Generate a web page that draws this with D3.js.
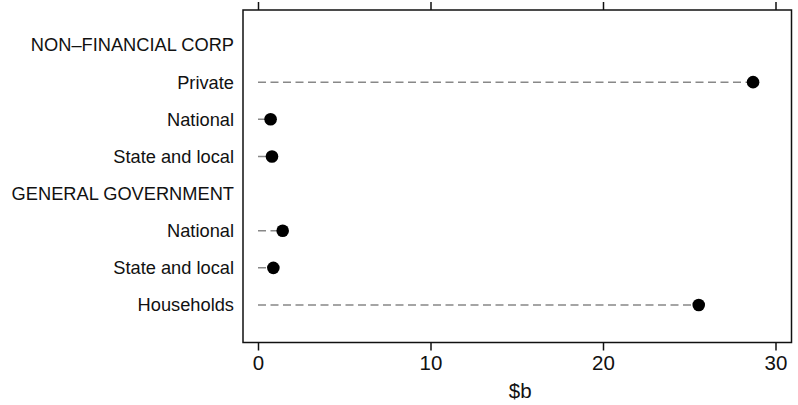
<!DOCTYPE html>
<html>
<head>
<meta charset="utf-8">
<script src="https://cdn.jsdelivr.net/npm/d3@7/dist/d3.min.js"></script>
<style>
  html, body { margin: 0; padding: 0; background: #fff; }
  svg text { font-family: "Liberation Sans", Arial, sans-serif; fill: #111; }
</style>
</head>
<body>
<svg id="chart" width="798" height="405"></svg>
<script>
// Data
const categories = [
  "NON–FINANCIAL CORP",
  "Private",
  "National",
  "State and local",
  "GENERAL GOVERNMENT",
  "National",
  "State and local",
  "Households"
];
// null for header rows (no value)
const values = [null, 28.7, 0.73, 0.81, null, 1.43, 0.89, 25.55];
const xTicks = [0, 10, 20, 30];
const xTitle = "$b";

(function () {
const svg = d3.select("#chart");
const mL = 243, mR = 791.5, mT = 10, mB = 342.5;

const x = d3.scaleLinear().domain([0, 30]).range([258, 775.5]);
const y = d3.scalePoint().domain(d3.range(categories.length)).range([45, 305]);

// frame
svg.append("rect")
  .attr("x", mL).attr("y", mT)
  .attr("width", mR - mL).attr("height", mB - mT)
  .attr("fill", "none").attr("stroke", "#111").attr("stroke-width", 1.5);

// bottom axis
const gb = svg.append("g").attr("transform", `translate(0,${mB})`)
  .call(d3.axisBottom(x).tickValues(xTicks).tickSize(8).tickPadding(4.5).tickFormat(d3.format("d")));
gb.select(".domain").remove();
gb.selectAll(".tick line").attr("stroke", "#111").attr("stroke-width", 1.5);
gb.selectAll(".tick text").attr("font-size", 20.5).style("font-family", "Liberation Sans, Arial, sans-serif").attr("fill", "#111");

// top axis (ticks only)
const gt = svg.append("g").attr("transform", `translate(0,${mT})`)
  .call(d3.axisTop(x).tickValues(xTicks).tickSize(8).tickFormat(""));
gt.select(".domain").remove();
gt.selectAll(".tick line").attr("stroke", "#111").attr("stroke-width", 1.5);

// axis title
svg.append("text")
  .attr("x", (mL + mR) / 2 + 3).attr("y", 398)
  .attr("text-anchor", "middle").attr("font-size", 20.5)
  .text(xTitle);

// category labels
svg.append("g").selectAll("text")
  .data(categories)
  .join("text")
  .attr("x", 234)
  .attr("y", (d, i) => y(i))
  .attr("dy", "0.35em")
  .attr("text-anchor", "end")
  .attr("font-size", 18.25)
  .text(d => d);

const pts = values.map((v, i) => ({ v, i })).filter(d => d.v !== null);

// dashed leader lines
svg.append("g").selectAll("line")
  .data(pts)
  .join("line")
  .attr("x1", x(0))
  .attr("x2", d => x(d.v))
  .attr("y1", d => y(d.i))
  .attr("y2", d => y(d.i))
  .attr("stroke", "#888")
  .attr("stroke-width", 1.5)
  .attr("stroke-dasharray", "8,4.5");

// dots
svg.append("g").selectAll("circle")
  .data(pts)
  .join("circle")
  .attr("cx", d => x(d.v))
  .attr("cy", d => y(d.i))
  .attr("r", 6.3)
  .attr("fill", "#000");
})();
</script>
</body>
</html>
